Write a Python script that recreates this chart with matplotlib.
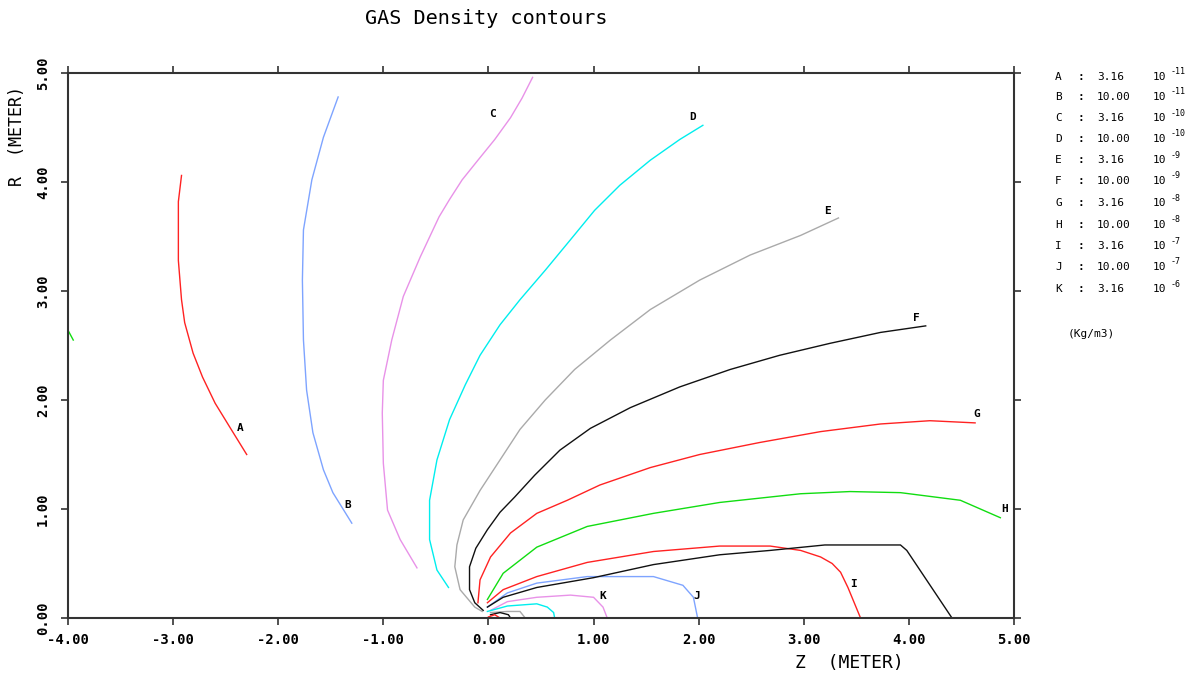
import matplotlib
matplotlib.use("Agg")
import matplotlib.pyplot as plt

OUTPUT_FILE = "out.png"

# contour lines, Z (meter) and R (meter)
A_z = [-2.92, -2.95, -2.95, -2.92, -2.89, -2.81, -2.72, -2.60, -2.46, -2.30]
A_r = [4.06, 3.82, 3.28, 2.92, 2.71, 2.43, 2.21, 1.97, 1.75, 1.50]

B_z = [-1.43, -1.57, -1.68, -1.76, -1.77, -1.76, -1.73, -1.67, -1.57, -1.48, -1.30]
B_r = [4.78, 4.41, 4.02, 3.56, 3.10, 2.55, 2.09, 1.70, 1.36, 1.15, 0.87]

C_z = [0.42, 0.32, 0.21, 0.06, -0.10, -0.25, -0.37, -0.47, -0.65, -0.81, -0.92,
       -1.00, -1.01, -1.00, -0.96, -0.84, -0.68]
C_r = [4.96, 4.77, 4.59, 4.39, 4.20, 4.02, 3.84, 3.68, 3.31, 2.95, 2.55,
       2.18, 1.88, 1.42, 0.99, 0.72, 0.46]

D_z = [2.04, 1.82, 1.54, 1.25, 1.01, 0.78, 0.54, 0.30, 0.11, -0.08, -0.22,
       -0.37, -0.49, -0.56, -0.56, -0.49, -0.38]
D_r = [4.52, 4.39, 4.20, 3.97, 3.74, 3.47, 3.19, 2.92, 2.69, 2.41, 2.14,
       1.82, 1.45, 1.08, 0.72, 0.44, 0.28]

E_z = [3.33, 2.97, 2.49, 2.01, 1.54, 1.16, 0.82, 0.54, 0.30, 0.11, -0.08,
       -0.24, -0.30, -0.32, -0.27, -0.13, -0.06]
E_r = [3.67, 3.51, 3.33, 3.10, 2.83, 2.55, 2.28, 2.00, 1.73, 1.45, 1.17,
       0.90, 0.67, 0.47, 0.26, 0.10, 0.06]

F_z = [4.16, 3.73, 3.25, 2.77, 2.30, 1.82, 1.35, 0.97, 0.68, 0.44, 0.25,
       0.11, -0.01, -0.12, -0.18, -0.18, -0.13, -0.05]
F_r = [2.68, 2.62, 2.52, 2.41, 2.28, 2.12, 1.93, 1.74, 1.54, 1.31, 1.11,
       0.97, 0.81, 0.64, 0.47, 0.26, 0.14, 0.07]

G_z = [4.63, 4.20, 3.73, 3.16, 2.58, 2.01, 1.54, 1.06, 0.75, 0.46, 0.21,
       0.02, -0.08, -0.10]
G_r = [1.79, 1.81, 1.78, 1.71, 1.61, 1.50, 1.38, 1.22, 1.08, 0.96, 0.78,
       0.56, 0.35, 0.14]

H_z = [4.87, 4.49, 3.92, 3.44, 2.97, 2.20, 1.57, 0.94, 0.46, 0.14, -0.01]
H_r = [0.92, 1.08, 1.15, 1.16, 1.14, 1.06, 0.96, 0.84, 0.65, 0.41, 0.17]

I_z = [-0.01, 0.14, 0.46, 0.94, 1.57, 2.20, 2.68, 2.97, 3.16, 3.27, 3.35,
       3.42, 3.54]
I_r = [0.14, 0.26, 0.38, 0.51, 0.61, 0.66, 0.66, 0.62, 0.56, 0.50, 0.42,
       0.28, 0.0]

J_z = [-0.01, 0.18, 0.46, 0.94, 1.57, 1.85, 1.95, 1.99]
J_r = [0.10, 0.23, 0.32, 0.38, 0.38, 0.30, 0.19, 0.0]

K_z = [0.02, 0.18, 0.46, 0.78, 1.00, 1.09, 1.13]
K_r = [0.07, 0.15, 0.19, 0.21, 0.19, 0.10, 0.0]

# unlabeled contours near the nozzle
L_z = [-0.01, 0.14, 0.46, 1.00, 1.57, 2.20, 2.68, 3.20, 3.92, 3.98, 4.41]
L_r = [0.10, 0.19, 0.28, 0.37, 0.49, 0.58, 0.62, 0.67, 0.67, 0.62, 0.0]
M_z = [-0.01, 0.18, 0.46, 0.56, 0.62, 0.63]
M_r = [0.06, 0.11, 0.13, 0.10, 0.05, 0.0]
N_z = [0.02, 0.18, 0.30, 0.35]
N_r = [0.05, 0.06, 0.06, 0.0]
O_z = [0.02, 0.11, 0.19, 0.21]
O_r = [0.03, 0.05, 0.03, 0.0]
P_z = [0.0, 0.06, 0.11]
P_r = [0.01, 0.03, 0.0]
Q_z = [-4.0, -3.95]
Q_r = [2.64, 2.55]

names = ["A", "B", "C", "D", "E", "F", "G", "H", "I", "J", "K"]
mantissa = ["3.16", "10.00", "3.16", "10.00", "3.16", "10.00",
            "3.16", "10.00", "3.16", "10.00", "3.16"]
exponent = ["-11", "-11", "-10", "-10", "-9", "-9", "-8", "-8", "-7", "-7", "-6"]

RED = "#ff2222"
BLUE = "#7ea4ff"
VIOLET = "#e892e8"
CYAN = "#00eeee"
GRAY = "#aaaaaa"
BLACK = "#111111"
GREEN = "#11dd11"

curves = [
    (A_z, A_r, RED), (B_z, B_r, BLUE), (C_z, C_r, VIOLET), (D_z, D_r, CYAN),
    (E_z, E_r, GRAY), (F_z, F_r, BLACK), (G_z, G_r, RED), (H_z, H_r, GREEN),
    (I_z, I_r, RED), (J_z, J_r, BLUE), (K_z, K_r, VIOLET),
    (L_z, L_r, BLACK), (M_z, M_r, CYAN), (N_z, N_r, GRAY), (O_z, O_r, BLACK),
    (P_z, P_r, RED), (Q_z, Q_r, GREEN),
]

# where each letter sits next to its line
label_pos = [(-2.36, 1.74), (-1.34, 1.04), (0.04, 4.62), (1.94, 4.60),
             (3.23, 3.73), (4.07, 2.75), (4.65, 1.87), (4.91, 1.00),
             (3.47, 0.31), (1.98, 0.20), (1.09, 0.20)]

MONO = "DejaVu Sans Mono"
W, H = 1198, 673


def fx(px):
    return px / W


def fy(py):
    return 1 - py / H


fig = plt.figure(figsize=(W / 100, H / 100), dpi=100)
ax = fig.add_axes([fx(68), 1 - 618 / H, 946 / W, 545 / H])

for z, r, c in curves:
    ax.plot(z, r, color=c, lw=1.0, solid_joinstyle="miter")

for name, (z, r) in zip(names, label_pos):
    ax.text(z, r, name, fontsize=8, family=MONO, ha="center", va="center",
            weight="bold")

ax.set_xlim(-4, 5)
ax.set_ylim(0, 5)
ticks_x = [-4, -3, -2, -1, 0, 1, 2, 3, 4, 5]
ticks_y = [0, 1, 2, 3, 4, 5]
ax.set_xticks(ticks_x)
ax.set_yticks(ticks_y)
ax.set_xticklabels([f"{v:.2f}" for v in ticks_x], family=MONO, fontsize=10,
                   weight="bold")
ax.set_yticklabels([f"{v:.2f}" for v in ticks_y], family=MONO, fontsize=10,
                   rotation=90, va="center", weight="bold")
ax.tick_params(axis="both", which="both", direction="out", length=5, width=1.2,
               color="#333333", top=True, right=True, pad=6)
ax.tick_params(axis="y", right=True, labelright=False, pad=8)
ax.tick_params(axis="x", top=True, labeltop=False)
for sp in ax.spines.values():
    sp.set_color("#333333")
    sp.set_linewidth(1.5)

fig.text(fx(486), fy(18), "GAS Density contours", family=MONO, fontsize=14.5,
         ha="center", va="center")
fig.text(fx(849), fy(663), "Z  (METER)", family=MONO, fontsize=13,
         ha="center", va="center")
fig.text(fx(17), fy(136), "R  (METER)", family=MONO, fontsize=12,
         ha="center", va="center", rotation=90)

# right hand legend of contour levels
row_y = [77, 97, 118, 139, 160, 181, 203, 225, 246, 267, 289]
for name, m, e, y in zip(names, mantissa, exponent, row_y):
    fig.text(fx(1055), fy(y), name, family=MONO, fontsize=8, va="center")
    fig.text(fx(1077), fy(y), ":", family=MONO, fontsize=8, va="center",
             weight="bold")
    fig.text(fx(1097), fy(y), m, family=MONO, fontsize=8, va="center")
    fig.text(fx(1153), fy(y), "10", family=MONO, fontsize=8, va="center")
    fig.text(fx(1171), fy(y - 5), e, family=MONO, fontsize=6, va="center")
fig.text(fx(1068), fy(334), "(Kg/m3)", family=MONO, fontsize=8, va="center")

fig.savefig(OUTPUT_FILE, dpi=100)
